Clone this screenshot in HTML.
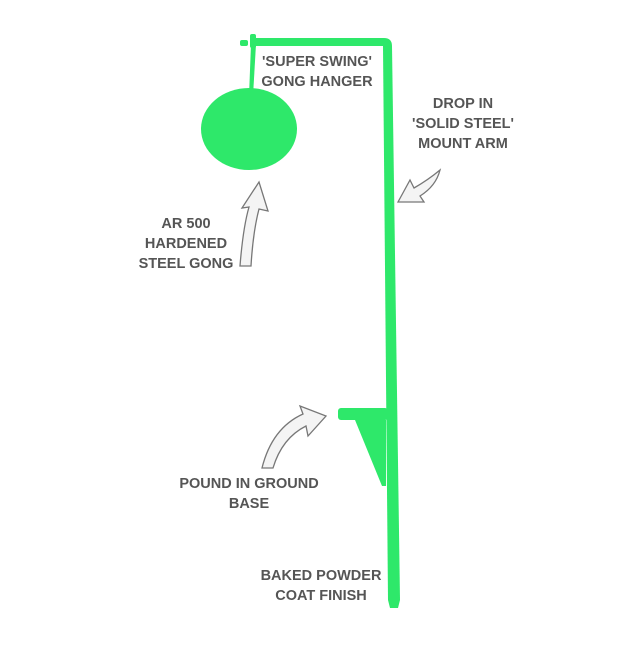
<!DOCTYPE html>
<html><head><style>
body{margin:0;background:#fff;}
svg text{font-family:"Liberation Sans",sans-serif;font-weight:bold;font-size:14.5px;fill:#555;text-anchor:middle;}
</style></head><body>
<svg width="640" height="640" viewBox="0 0 640 640" xmlns="http://www.w3.org/2000/svg">
<path d="M383,46 L392,46 L400,600 L398,608 L390,608 L388,600 Z" fill="#2ee86a"/>
<path d="M252,38 L384,38 Q392,38 392,46 L383,46 L383,46 L252,46 Z" fill="#2ee86a"/>
<rect x="240" y="40" width="8" height="6" rx="2" fill="#2ee86a"/>
<rect x="250" y="34" width="6" height="14" rx="2" fill="#2ee86a"/>
<path d="M251,44 L256,44 L253,96 L249,96 Z" fill="#2ee86a"/>
<ellipse cx="249" cy="129" rx="48" ry="41" fill="#2ee86a"/>
<rect x="338" y="408" width="50" height="12" rx="3" fill="#2ee86a"/>
<path d="M355,420 L386,420 L386,486 L382,486 Z" fill="#2ee86a"/>
<g fill="#f4f4f4" stroke="#777" stroke-width="1.3">
<path d="M240,266 Q243,228 249,207 L242,208 L259,182 L268,211 L259,209 Q253,232 251,266 Z"/>
<path d="M398,202 L410,180 L414,188 Q428,180 440,170 Q436,186 420,196 L424,202 Z"/>
<path d="M262,468 Q272,428 303,414 L300,406 L326,416 L308,436 L306,426 Q282,438 273,468 Z"/>
</g>
<text x="317" y="66">'SUPER SWING'</text>
<text x="317" y="86">GONG HANGER</text>
<text x="463" y="108">DROP IN</text>
<text x="463" y="128">'SOLID STEEL'</text>
<text x="463" y="148">MOUNT ARM</text>
<text x="186" y="228">AR 500</text>
<text x="186" y="248">HARDENED</text>
<text x="186" y="268">STEEL GONG</text>
<text x="249" y="488">POUND IN GROUND</text>
<text x="249" y="508">BASE</text>
<text x="321" y="580">BAKED POWDER</text>
<text x="321" y="600">COAT FINISH</text>
</svg>
</body></html>
